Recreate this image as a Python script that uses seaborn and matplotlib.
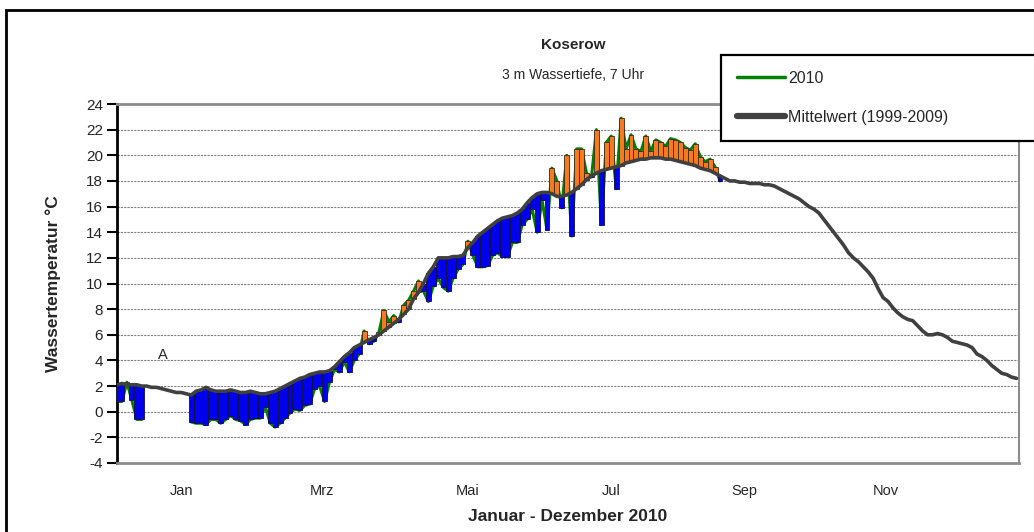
import numpy as np
import pandas as pd
import seaborn as sns
import matplotlib
matplotlib.use("Agg")
import matplotlib.pyplot as plt
from matplotlib.lines import Line2D
from matplotlib.patches import Rectangle

# day of year (every 2nd day)
days = np.arange(0, 366, 2)

# long-term mean 1999-2009
mean_9909 = [
    2.1, 2.2, 2.1, 2.1, 2.1,
    2.0, 2.0, 1.9, 1.9, 1.8,
    1.7, 1.6, 1.5, 1.5, 1.4,
    1.3, 1.6, 1.7, 1.9, 1.7,
    1.6, 1.6, 1.6, 1.7, 1.6,
    1.5, 1.5, 1.6, 1.5, 1.4,
    1.4, 1.5, 1.6, 1.8, 2.0,
    2.2, 2.4, 2.6, 2.7, 2.9,
    3.0, 3.1, 3.1, 3.2, 3.5,
    3.9, 4.3, 4.6, 5.0, 5.2,
    5.4, 5.6, 5.8, 6.0, 6.3,
    6.6, 6.9, 7.2, 7.6, 8.0,
    8.8, 9.3, 10.0, 10.8, 11.3,
    12.0, 12.0, 12.0, 12.1, 12.1,
    12.2, 12.8, 13.2, 13.7, 14.0,
    14.3, 14.6, 14.9, 15.1, 15.2,
    15.3, 15.5, 15.8, 16.3, 16.7,
    17.0, 17.1, 17.1, 17.0, 16.8,
    16.8, 16.9, 17.1, 17.4, 17.7,
    18.1, 18.4, 18.6, 18.8, 18.9,
    19.0, 19.1, 19.2, 19.4, 19.5,
    19.6, 19.7, 19.7, 19.8, 19.8,
    19.8, 19.7, 19.7, 19.6, 19.5,
    19.4, 19.3, 19.2, 19.0, 18.9,
    18.8, 18.6, 18.4, 18.2, 18.0,
    18.0, 17.9, 17.9, 17.8, 17.8,
    17.8, 17.7, 17.7, 17.6, 17.4,
    17.2, 17.0, 16.8, 16.6, 16.3,
    16.0, 15.8, 15.5, 15.0, 14.5,
    14.0, 13.5, 13.0, 12.4, 12.0,
    11.7, 11.3, 10.9, 10.4, 9.6,
    8.9, 8.6, 8.1, 7.7, 7.4,
    7.2, 7.1, 6.7, 6.3, 6.0,
    6.0, 6.1, 6.0, 5.8, 5.5,
    5.4, 5.3, 5.2, 5.0, 4.5,
    4.3, 4.0, 3.6, 3.3, 3.0,
    2.9, 2.7, 2.6,
]

nan = np.nan
# 2010 measurements, same day grid (gaps = no data)
temp_2010 = [
    0.8, 0.8, 2.3, 0.9, -0.6,
    -0.6, nan, nan, nan, nan,
    nan, nan, nan, nan, nan,
    -0.8, -0.9, -0.9, -1.0, -0.6,
    -0.6, -0.9, -0.6, -0.3, -0.6,
    -0.7, -1.0, -0.6, -0.5, -0.5,
    0.4, -0.9, -1.2, -0.9, -0.5,
    -0.1, 0.2, 0.1, 0.5, 0.6,
    1.8, 2.0, 0.8, 2.3, 3.3,
    3.1, 3.9, 3.1, 4.0, 4.5,
    6.3, 5.3, 5.5, 6.2, 7.9,
    7.0, 7.5, 7.0, 8.3, 8.7,
    9.4, 10.2, 9.4, 8.6, 9.8,
    10.4, 9.7, 9.4, 10.4, 11.1,
    11.5, 13.3, 12.2, 11.3, 11.3,
    11.4, 12.2, 12.4, 12.1, 12.1,
    13.2, 13.2, 14.6, 15.0, 15.8,
    14.0, 16.5, 14.2, 19.0, 18.0,
    15.9, 20.0, 13.7, 20.5, 20.5,
    18.6, 18.3, 22.0, 14.6, 21.0,
    21.5, 17.4, 22.9, 20.5, 21.6,
    20.5, 20.3, 21.5, 20.3, 21.2,
    21.0, 20.7, 21.3, 21.2, 21.0,
    20.6, 20.4, 20.9, 19.9, 19.5,
    19.7, 19.1, 18.0,
]
temp_2010 = temp_2010 + [nan] * (len(days) - len(temp_2010))

month_labels = ["Jan", "Mrz", "Mai", "Jul", "Sep", "Nov"]
month_pos = [26, 83, 142, 200, 254, 311]

df = pd.DataFrame({"Tag": days, "Mittelwert": mean_9909, "2010": temp_2010})
df["diff"] = df["2010"] - df["Mittelwert"]

sns.set_style("white")
plt.rcParams["font.family"] = ["Liberation Sans", "DejaVu Sans"]
plt.rcParams["axes.unicode_minus"] = False

fig = plt.figure(figsize=(10.34, 5.32), dpi=100)
ax = fig.add_axes([117 / 1034, 1 - 463 / 532, 902 / 1034, 359 / 532])

# green 2010 line (behind the bars)
ax.plot(df["Tag"], df["2010"], color="#008000", lw=2.2, zorder=2)

# up/down bars between mean and 2010
ok = df["diff"].notna()
up = ok & (df["diff"] >= 0)
down = ok & (df["diff"] < 0)
ax.bar(df.loc[up, "Tag"], df.loc[up, "diff"], bottom=df.loc[up, "Mittelwert"],
       width=2, color="#F77A1E", edgecolor="#3a2a1a", linewidth=0.6, zorder=3)
ax.bar(df.loc[down, "Tag"], df.loc[down, "diff"], bottom=df.loc[down, "Mittelwert"],
       width=2, color="#0000F0", edgecolor="#101040", linewidth=0.6, zorder=3)

# long-term mean
sns.lineplot(data=df, x="Tag", y="Mittelwert", ax=ax, color="#404040",
             lw=2.6, zorder=4, legend=False)

ax.set_xlim(0, 365)
ax.set_ylim(-4, 24)
ax.set_yticks(np.arange(-4, 25, 2))
ax.set_xticks(month_pos)
ax.set_xticklabels(month_labels)
ax.tick_params(axis="x", length=0, pad=15, labelsize=10.5)
ax.tick_params(axis="y", length=7, width=1.5, direction="out", pad=3,
               labelsize=11, left=True, color="black")
ax.yaxis.grid(True, color="#808080", lw=0.8, ls=(0, (2, 1)))
ax.set_axisbelow(True)

for side in ["top", "right", "bottom"]:
    ax.spines[side].set_color("#8c8c8c")
    ax.spines[side].set_linewidth(2)
ax.spines["right"].set_linewidth(1.5)
ax.spines["left"].set_color("black")
ax.spines["left"].set_linewidth(2)

ax.set_xlabel("Januar - Dezember 2010", fontsize=12.5, fontweight="bold", labelpad=8)
ax.set_ylabel("Wassertemperatur °C", fontsize=12.5, fontweight="bold", labelpad=18)

ax.text(18.6, 4.4, "A", ha="center", va="center", fontsize=10.5)

fig.text(573 / 1034, 1 - 45 / 532, "Koserow", ha="center", va="center",
         fontsize=11, fontweight="bold")
fig.text(573 / 1034, 1 - 75 / 532, "3 m Wassertiefe, 7 Uhr", ha="center",
         va="center", fontsize=10)

# legend box runs past the right edge of the picture, as in the original
handles = [Line2D([], [], color="#008000", lw=2.5),
           Line2D([], [], color="#404040", lw=4.5)]
leg = fig.legend(handles, ["2010", "Mittelwert (1999-2009)"],
                 loc="upper left",
                 bbox_to_anchor=(721 / 1034, 1 - 141 / 532, 340 / 1034, 86 / 532),
                 mode="expand", fontsize=11.5, frameon=True, fancybox=False,
                 shadow=False, framealpha=1, edgecolor="black", handlelength=3.0,
                 handletextpad=0.2, labelspacing=1.5, borderpad=1.0,
                 borderaxespad=0)
leg.get_frame().set_linewidth(1.6)
leg.set_zorder(10)

# outer chart frame
fig.patches.append(Rectangle((6 / 1034, -0.2), 1.2, 1.2 - 10 / 532,
                             transform=fig.transFigure, fill=False,
                             edgecolor="black", lw=2, clip_on=False))

fig.savefig("out.png", dpi=100)
